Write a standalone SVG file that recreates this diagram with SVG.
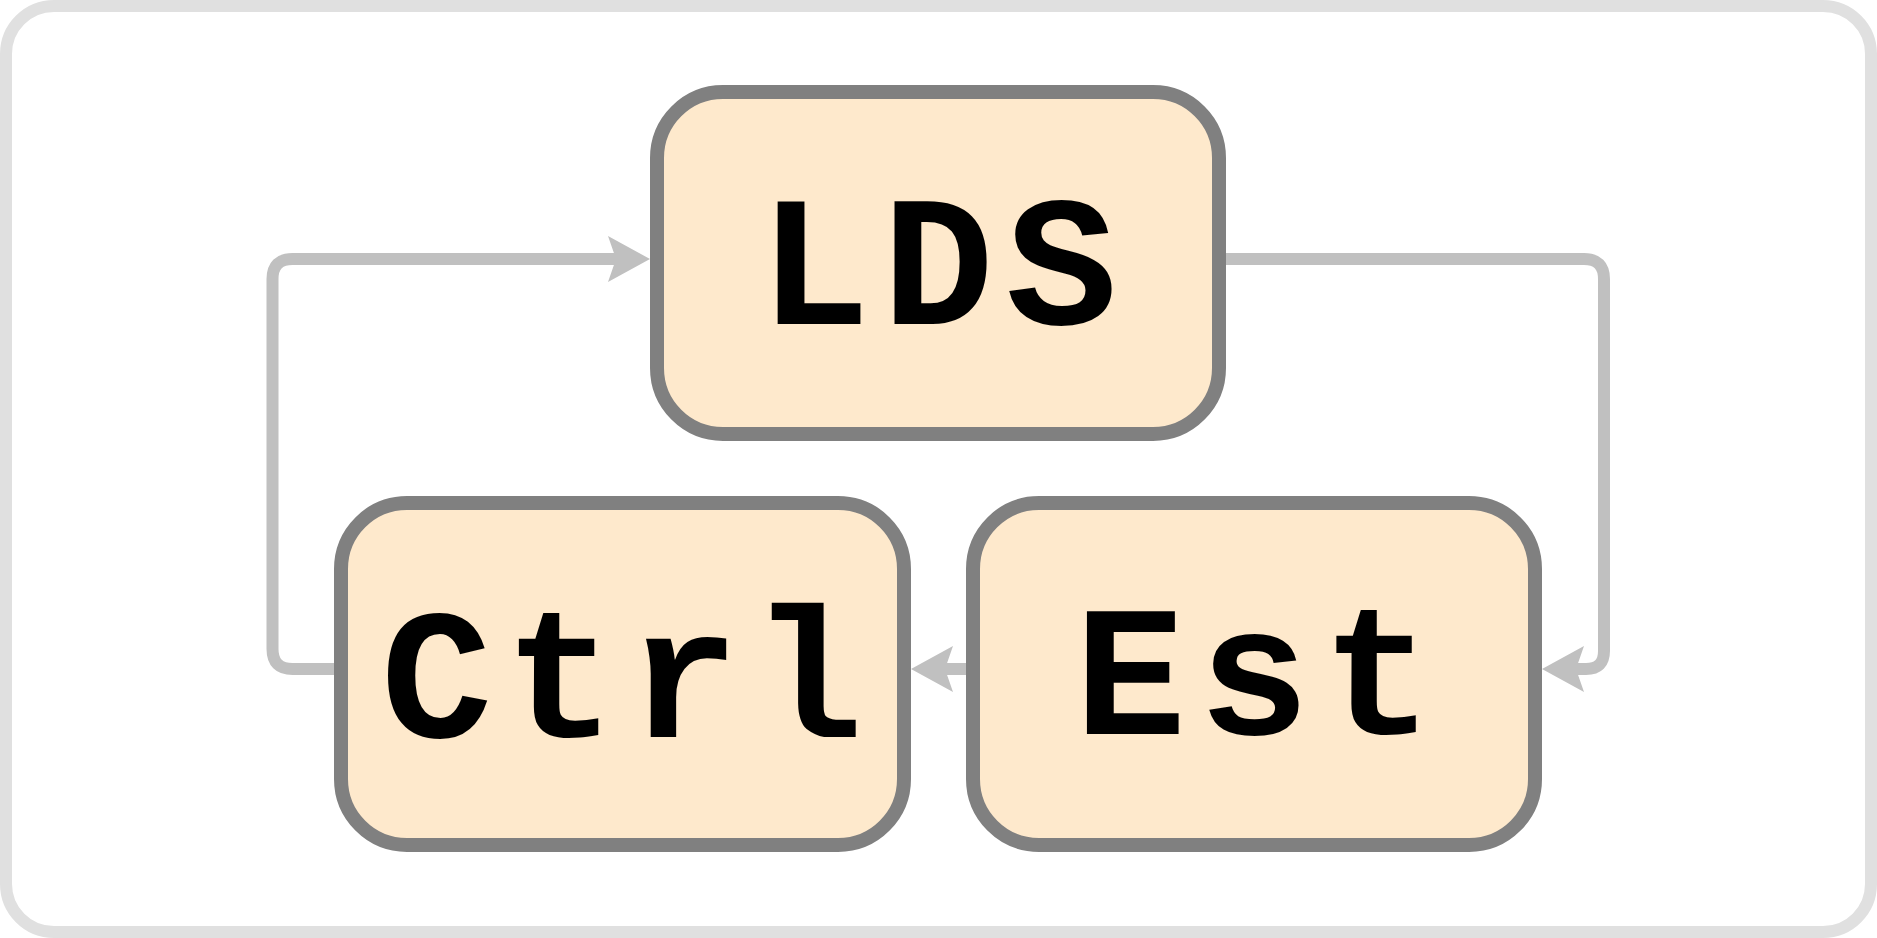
<svg xmlns="http://www.w3.org/2000/svg" width="1877" height="938" viewBox="0 0 1877 938">
<style>
.frame{fill:#ffffff;stroke:#e0e0e0;stroke-width:12}
.node rect{fill:#fee9cc;stroke:#808080;stroke-width:14}
.node text{font-family:"Courier New","Liberation Mono",monospace;font-weight:bold;font-size:186px;letter-spacing:12px;fill:#000;text-anchor:middle}
.edge{fill:none;stroke:#c0c0c0;stroke-width:12;marker-end:url(#arr)}
</style>
<defs>
<marker id="arr" markerUnits="userSpaceOnUse" viewBox="0 -23 42 46" markerWidth="42" markerHeight="46" refX="8" refY="0" orient="auto">
<path d="M0,-23 L42,0 L0,23 L8,0 Z" fill="#c0c0c0"/>
</marker>
</defs>
<rect class="frame" x="6" y="6" width="1865" height="926" rx="48"/>
<g id="connectors">
<path class="edge" d="M341 669 H292.5 Q272.5 669 272.5 649 V279 Q272.5 259 292.5 259 H616"/>
<path class="edge" d="M1219 259 H1584 Q1604 259 1604 279 V651 Q1604 669 1586 669 H1576"/>
<path class="edge" d="M973 669 H945"/>
</g>
<g id="LDS" class="node">
<rect x="657" y="92" width="562" height="342" rx="66"/>
<text x="944" y="324">LDS</text>
</g>
<g id="Ctrl" class="node">
<rect x="341" y="503" width="563" height="342" rx="66"/>
<text x="628" y="737">Ctrl</text>
</g>
<g id="Est" class="node">
<rect x="973" y="503" width="562" height="342" rx="66"/>
<text x="1260" y="734">Est</text>
</g>
</svg>
